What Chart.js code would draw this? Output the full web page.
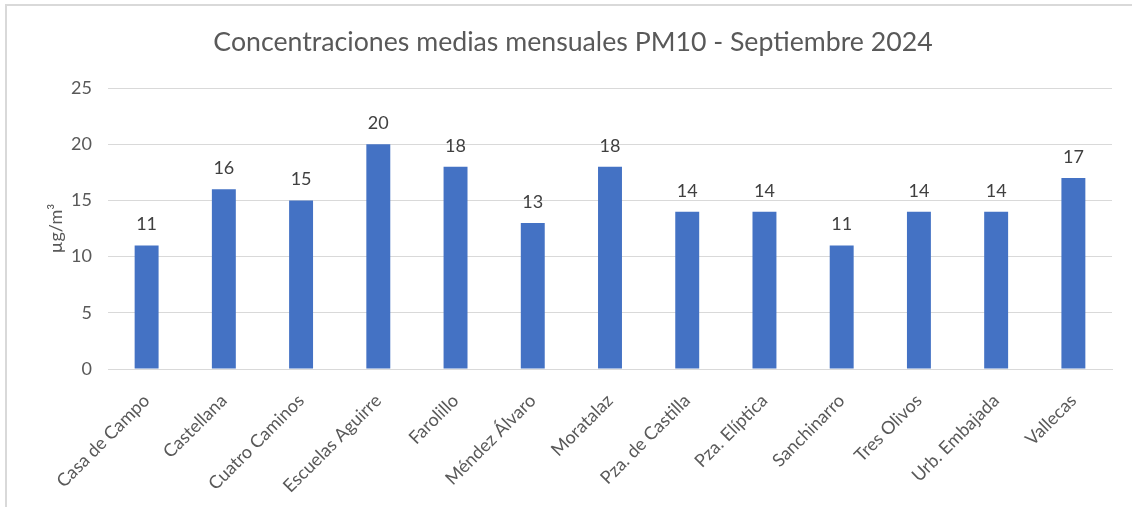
<!DOCTYPE html>
<html>
<head>
<meta charset="utf-8">
<script src="https://cdn.jsdelivr.net/npm/chart.js@4.4.1/dist/chart.umd.min.js"></script>
<style>
  html, body { margin: 0; padding: 0; background: #fff; }
  #wrap { position: relative; width: 1132px; height: 507px; }
  #frame { position: absolute; left: 5px; top: 4px; width: 1140px; height: 520px; border-left: 2px solid #d9d9d9; border-top: 2px solid #d9d9d9; box-sizing: border-box; }
  canvas { position: absolute; left: 0; top: 0; }
</style>
</head>
<body>
<div id="wrap">
  <div id="frame"></div>
  <canvas id="c" width="1132" height="507"></canvas>
</div>
<script>
const titleText = 'Concentraciones medias mensuales PM10 - Septiembre 2024';
const yAxisTitle = 'µg/m³';
const categories = ['Casa de Campo', 'Castellana', 'Cuatro Caminos', 'Escuelas Aguirre', 'Farolillo', 'Méndez Álvaro', 'Moratalaz', 'Pza. de Castilla', 'Pza. Elíptica', 'Sanchinarro', 'Tres Olivos', 'Urb. Embajada', 'Vallecas'];
const values = [11, 16, 15, 20, 18, 13, 18, 14, 14, 11, 14, 14, 17];
const yTicks = [0, 5, 10, 15, 20, 25];

const FONT = 'Lato, "Open Sans", sans-serif';

const labelPlugin = {
  id: 'barLabels',
  afterDatasetsDraw(chart) {
    const ctx = chart.ctx;
    const meta = chart.getDatasetMeta(0);
    ctx.save();
    ctx.font = '18px ' + FONT;
    ctx.fillStyle = '#404040';
    ctx.textAlign = 'center';
    ctx.textBaseline = 'alphabetic';
    meta.data.forEach((bar, i) => {
      ctx.fillText(String(values[i]), bar.x, bar.y - 15);
    });
    ctx.restore();
  }
};

new Chart(document.getElementById('c'), {
  type: 'bar',
  data: {
    labels: categories,
    datasets: [{
      data: values,
      backgroundColor: '#4472C4',
      borderWidth: 0,
      barPercentage: 0.31,
      categoryPercentage: 1.0
    }]
  },
  options: {
    responsive: false,
    animation: false,
    devicePixelRatio: 1,
    layout: { padding: { left: 34, right: 20, top: 26, bottom: 0 } },
    plugins: {
      legend: { display: false },
      tooltip: { enabled: false },
      title: {
        display: true,
        text: titleText,
        color: '#595959',
        font: { family: FONT, size: 26.7, weight: 'normal' },
        padding: { top: 0, bottom: 30 }
      }
    },
    scales: {
      x: {
        grid: { display: false, drawTicks: false },
        border: { display: true, color: '#d9d9d9', width: 1 },
        ticks: {
          color: '#595959',
          font: { family: FONT, size: 18 },
          maxRotation: 45,
          minRotation: 45,
          padding: 21,
          autoSkip: false
        },
        afterFit(scale) { scale.height = 138; }
      },
      y: {
        min: 0,
        max: 25,
        afterBuildTicks(scale) { scale.ticks = yTicks.map(v => ({ value: v })); },
        grid: { color: '#d9d9d9', lineWidth: 1, drawTicks: false },
        border: { display: false },
        ticks: {
          color: '#595959',
          font: { family: FONT, size: 18 },
          padding: 16
        },
        title: {
          display: true,
          text: yAxisTitle,
          color: '#595959',
          font: { family: FONT, size: 18 },
          padding: { top: 11, bottom: 0 }
        },
        afterFit(scale) { scale.width = 74; }
      }
    }
  },
  plugins: [labelPlugin]
});
</script>
</body>
</html>
